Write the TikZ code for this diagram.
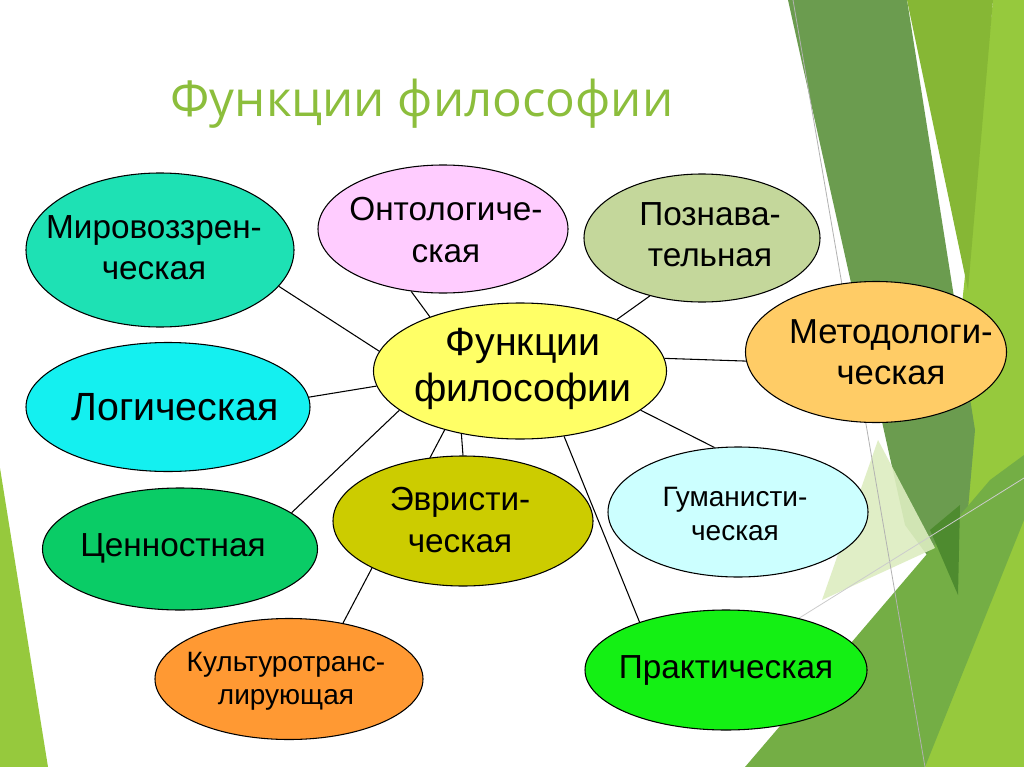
\documentclass[tikz,border=0pt]{standalone}
\usepackage{fontspec}
\setmainfont{Liberation Sans}
\newfontfamily\titlefont{Open Sans}
\usetikzlibrary{shapes.geometric,backgrounds}

\definecolor{titlegreen}{RGB}{140,190,60}
\definecolor{decolime}{RGB}{150,201,61}
\definecolor{decoyg}{RGB}{134,183,53}
\definecolor{decodark}{RGB}{107,156,79}
\definecolor{decomid}{RGB}{116,174,69}
\definecolor{decopale}{RGB}{221,237,192}
\definecolor{decodeep}{RGB}{78,139,47}
\definecolor{cmir}{RGB}{30,225,180}
\definecolor{conto}{RGB}{255,204,255}
\definecolor{cpozn}{RGB}{196,215,155}
\definecolor{cmetod}{RGB}{255,204,102}
\definecolor{cfun}{RGB}{255,255,102}
\definecolor{clog}{RGB}{20,240,240}
\definecolor{ccenn}{RGB}{10,204,102}
\definecolor{cevr}{RGB}{204,204,0}
\definecolor{cgum}{RGB}{204,255,255}
\definecolor{ckult}{RGB}{255,153,51}
\definecolor{cprak}{RGB}{20,240,20}

\begin{document}
\begin{tikzpicture}[x=0.75pt,y=-0.75pt,
	func/.style={ellipse,draw,line width=0.8pt,inner sep=0pt},
	txt/.style={align=center,inner sep=0pt,font=\fontsize{25}{31}\selectfont},
	small/.style={font=\fontsize{21}{25}\selectfont},
	big/.style={font=\fontsize{29.5}{35}\selectfont}]
	\useasboundingbox (0,0) rectangle (1024,767);
	% green background
	\begin{pgfonlayer}{background}
		\fill[white] (0,0) rectangle (1024,767);
		\fill[decolime] (993,0) -- (1024,0) -- (1024,767) -- (915,767) -- cycle;
		\fill[decodark] (788,0) -- (907,0) -- (975,430) -- (960,600) -- (905,525) -- cycle;
		\fill[decoyg] (907,0) -- (993,0) -- (968,290) -- cycle;
		\fill[decomid] (745,767) -- (933,547) -- (990,480) -- (1024,455) -- (1024,520) -- (925,767) -- cycle;
		\fill[decopale,opacity=0.9] (822,600) -- (878,440) -- (935,548) -- cycle;
		\fill[decodeep] (930,530) -- (960,505) -- (958,595) -- cycle;
		\draw[gray!60,line width=0.6pt] (793,0) -- (925,767);
		\draw[gray!40,line width=0.6pt] (780,630) -- (1024,478);
		\fill[decolime] (0,468) -- (0,767) -- (48,767) -- cycle;
	\end{pgfonlayer}

	\node[titlegreen] (title) at (422,104) {\titlefont\fontsize{37}{40}\selectfont Функции философии};

	\node[func,fill=cfun,minimum width=219.75pt,minimum height=102pt] (f_0) at (520,371) {};
	\node[func,fill=cmir,minimum width=201pt,minimum height=115.5pt] (f_1) at (160,250) {};
	\node[func,fill=conto,minimum width=187.5pt,minimum height=96pt] (f_2) at (443,229) {};
	\node[func,fill=cpozn,minimum width=177pt,minimum height=96pt] (f_3) at (702,238) {};
	\node[func,fill=cmetod,minimum width=195.75pt,minimum height=105.75pt] (f_4) at (876,352) {};
	\node[func,fill=clog,minimum width=213pt,minimum height=96.75pt] (f_5) at (168,407) {};
	\node[func,fill=ccenn,minimum width=206.25pt,minimum height=91.5pt] (f_6) at (180,549) {};
	\node[func,fill=cevr,minimum width=195pt,minimum height=97.5pt] (f_7) at (463,521) {};
	\node[func,fill=cgum,minimum width=195pt,minimum height=97.5pt] (f_8) at (738,512) {};
	\node[func,fill=ckult,minimum width=201pt,minimum height=90.75pt] (f_9) at (289,679) {};
	\node[func,fill=cprak,minimum width=211.5pt,minimum height=90pt] (f_10) at (726,670) {};

	\node[txt,big] (t_0) at (523,369) {Функции\\философии};
	\node[txt] (t_1) at (154,248) {Мировоззрен-\\ческая};
	\node[txt] (t_2) at (446,230) {Онтологиче-\\ская};
	\node[txt] (t_3) at (710,235) {Познава-\\тельная};
	\node[txt,font=\fontsize{26}{31}\selectfont] (t_4) at (891,352) {Методологи-\\ческая};
	\node[txt,big] (t_5) at (175,407) {Логическая};
	\node[txt] (t_6) at (173,548) {Ценностная};
	\node[txt] (t_7) at (460,520) {Эвристи-\\ческая};
	\node[txt,small] (t_8) at (735,514) {Гуманисти-\\ческая};
	\node[txt,small] (t_9) at (286,681) {Культуротранс-\\лирующая};
	\node[txt] (t_10) at (726,670) {Практическая};

	\begin{pgfonlayer}{background}
		\path[line width=0.8pt]
			(f_0.172) edge (f_1.-17)
			(f_0.149) edge (f_2.-117)
			(f_0.28) edge (f_3.-132)
			(f_0.5) edge (f_4.184)
			(f_0.186) edge (f_5.4)
			(f_0.198) edge (f_6.18)
			(f_0.227) edge (f_7.90)
			(f_0.218) edge (f_9.46)
			(f_0.-18) edge (f_8.110)
			(f_0.-56) edge (f_10.151);
	\end{pgfonlayer}
\end{tikzpicture}
\end{document}
